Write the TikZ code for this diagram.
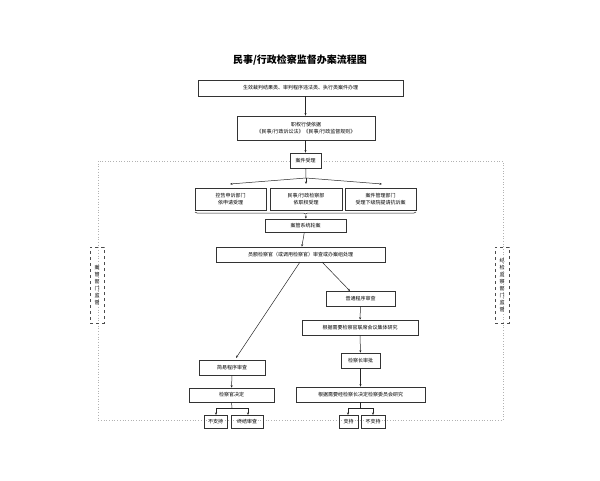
\documentclass[tikz,border=0pt]{standalone}
\usepackage{fontspec}
\setmainfont{Noto Sans CJK SC}
\usetikzlibrary{arrows.meta,decorations.pathreplacing}
\begin{document}
\begin{tikzpicture}[x=1pt,y=-1pt,
  bx/.style={draw=black!80,line width=0.6pt,font=\fontsize{5}{7}\selectfont,align=center,inner sep=0pt},
  ar/.style={-{Stealth[length=2.5pt,width=2pt]},line width=0.5pt,black!85},
  ln/.style={line width=0.5pt,black!85},
  side/.style={draw=black!70,dashed,line width=0.6pt,font=\fontsize{5}{7}\selectfont,align=center,inner sep=0pt}]
\useasboundingbox (0,0) rectangle (600,480);
\fill[white] (0,0) rectangle (600,480);
\newcommand{\bxat}[6]{\node[bx,minimum width=#3-#2,minimum height=#5-#4] (#1) at ({(#2+#3)/2},{(#4+#5)/2}) {#6};}
\node[font=\bfseries\fontsize{10}{12}\selectfont] (title) at (300,60) {民事/行政检察监督办案流程图};
\draw[black!30,dotted,line width=0.7pt] (98,161) rectangle (503,420);
\bxat{b1}{198}{403}{80}{96}{生效裁判结果类、审判程序违法类、执行类案件办理}
\bxat{b2}{237}{375}{116}{140}{职权行使依据\\《民事/行政诉讼法》《民事/行政监督规则》}
\fill[white] (290,153) rectangle (321,168);
\bxat{b3}{290}{321}{153}{168}{案件受理}
\bxat{c1}{195}{266}{188}{210}{控告申诉部门\\依申请受理}
\bxat{c2}{270}{342}{188}{210}{民事/行政检察部\\依职权受理}
\bxat{c3}{345}{416}{188}{210}{案件管理部门\\受理下级院提请抗诉案}
\bxat{d1}{265}{346}{219}{232}{案管系统轮案}
\bxat{d2}{216}{385}{247}{262}{员额检察官（或调用检察官）审查或办案组处理}
\bxat{e1}{326}{395}{291}{306}{普通程序审查}
\bxat{e2}{302}{418}{320}{335}{根据需要检察官联席会议集体研究}
\bxat{e3}{341}{380}{353}{368}{检察长审批}
\bxat{e4}{296}{425}{387}{402}{根据需要经检察长决定检察委员会研究}
\bxat{f1}{199}{265}{360}{375}{简易程序审查}
\bxat{f2}{189}{274}{388}{402}{检察官决定}
\bxat{g1}{204}{227}{415}{428}{不支持}
\bxat{g2}{231}{263}{415}{428}{终结审查}
\bxat{g3}{339}{358}{415}{428}{支持}
\bxat{g4}{361}{385}{415}{428}{不支持}
\node[side,minimum width=14,minimum height=76] (s1) at (97,285) {案\\管\\部\\门\\监\\督};
\node[side,minimum width=14,minimum height=76] (s2) at (502,285) {纪\\检\\监\\察\\部\\门\\监\\督};
\draw[ar] (b1.south -| b3) -- (b2.north -| b3);
\draw[ar] (b2.south -| b3) -- (b3);
\coordinate (j1) at (306,178);
\draw[ln] (b3) -- (j1);
\draw[ar] (j1) -- (230,184);
\draw[ar] (j1) -- (306,184);
\draw[ar] (j1) -- (382,184);
\draw[ln,decorate,decoration={brace,mirror,amplitude=2pt}] (195,212) -- (416,212);
\draw[ar] (306,215) -- (d1);
\draw[ar] (d1) -- (d2);
\draw[ar] (300,262) -- (236,358);
\draw[ar] (322,262) -- (350,291);
\draw[ar] (e1) -- (e2);
\draw[ar] (e2) -- (e3);
\draw[ar] (e3) -- (e4);
\draw[ar] (f1) -- (f2);
\draw[ln] (f2.south) -- (232,408);
\draw[ln] (216,408) -- (248,408);
\draw[ar] (216,408) -- (216,415);
\draw[ar] (248,408) -- (248,415);
\draw[ln] (360,402) -- (360,408);
\draw[ln] (348,408) -- (373,408);
\draw[ar] (348,408) -- (348,415);
\draw[ar] (373,408) -- (373,415);
\end{tikzpicture}
\end{document}
